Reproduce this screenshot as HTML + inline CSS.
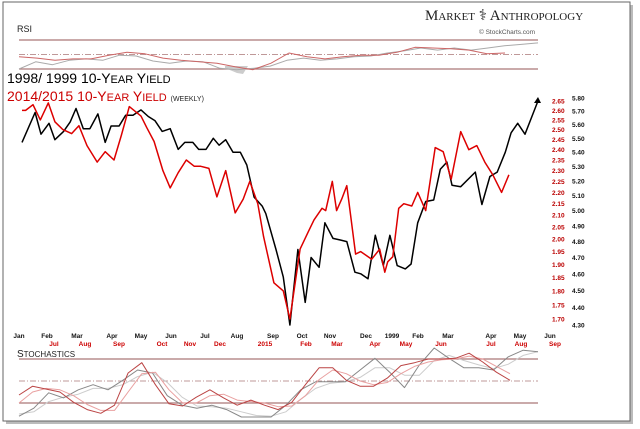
<!DOCTYPE html>
<html><head><meta charset="utf-8"><style>
body{margin:0;background:#fff;width:640px;height:429px;overflow:hidden;font-family:"Liberation Sans",sans-serif}
svg{display:block}
</style></head><body>
<svg id="c" width="640" height="429" viewBox="0 0 640 429">
<rect x="6" y="5" width="627" height="419" fill="#bbb"/>
<rect x="3" y="2" width="627" height="419" fill="#fff" stroke="#666" stroke-width="1"/>
<text x="425" y="20" font-size="15" font-family="Liberation Serif,serif" fill="#222">M<tspan font-size="11">ARKET</tspan> ⚕ A<tspan font-size="11">NTHROPOLOGY</tspan></text>
<text x="479" y="34" font-size="6.5" fill="#555">© StockCharts.com</text>
<text x="17" y="32" font-size="9" fill="#222">RSI</text>
<text x="7" y="83" font-size="14" fill="#000">1998/ 1999 10-Y<tspan font-size="11">EAR</tspan> Y<tspan font-size="11">IELD</tspan></text>
<text x="7" y="101" font-size="14" fill="#c00">2014/2015  10-Y<tspan font-size="11">EAR</tspan> Y<tspan font-size="11">IELD</tspan> <tspan font-size="7" fill="#222">(WEEKLY)</tspan></text>
<text x="17" y="357" font-size="10" fill="#222">S<tspan font-size="8">TOCHASTICS</tspan></text>
<g id="g"></g>
</svg>
<script>
const blackWeeks = [0,1.8,2.6,3.7,4.5,5.7,6.6,7.4,8.4,9.3,10.4,11.4,12.2,13.3,14.2,15.2,16.3,17.3,18.2,19.2,20.3,21.4,22.3,23.4,24.2,25.2,26.2,27.0,27.9,28.9,29.9,30.8,31.8,32.9,33.4,34.8,35.8,36.7,37.8,38.8,39.6,40.7,41.5,42.6,43.6,44.5,45.6,46.4,47.4,48.4,49.5,50.4,51.4,52.5,53.3,54.2,55.3,56.4,57.3,58.2,58.9,60.1,62.1,63.0,64.1,65.1,66.2,67.0,67.9,68.9,70.7];
const black = [5.47,5.69,5.53,5.61,5.49,5.55,5.62,5.72,5.57,5.57,5.68,5.47,5.59,5.59,5.67,5.67,5.71,5.66,5.63,5.55,5.57,5.42,5.47,5.47,5.42,5.42,5.50,5.45,5.49,5.40,5.40,5.31,5.09,5.03,4.98,4.75,4.58,4.30,4.75,4.43,4.70,4.64,4.92,4.82,4.81,4.80,4.61,4.60,4.57,4.84,4.65,4.84,4.65,4.63,4.66,4.92,5.06,5.07,5.28,5.33,5.17,5.16,5.26,5.04,5.23,5.26,5.40,5.54,5.61,5.53,5.78];
const redWeeks = [0,0.5,1.5,2.5,3.6,4.5,5.6,6.8,7.8,8.9,10.3,11.4,12.6,13.6,14.7,16.3,17.1,18.1,19.3,20.3,21.4,22.5,23.6,24.5,25.6,26.7,27.9,29.2,30.3,31.2,32.3,33.1,34.5,35.8,36.7,38.1,39.2,40.0,41.1,41.6,42.5,43.1,43.8,44.5,45.7,46.4,47.9,49.0,49.7,50.1,50.8,51.6,52.3,53.4,54.2,55.3,56.6,57.7,58.8,60.1,61.2,62.3,63.4,64.5,65.7,66.7];
const red = [2.60,2.60,2.63,2.55,2.64,2.54,2.50,2.48,2.52,2.42,2.34,2.39,2.35,2.47,2.62,2.57,2.51,2.44,2.30,2.22,2.29,2.35,2.32,2.32,2.31,2.18,2.30,2.11,2.17,2.25,2.15,2.01,1.83,1.80,1.70,1.96,2.03,2.08,2.13,2.12,2.25,2.12,2.17,2.23,1.94,1.95,1.92,1.96,1.87,1.91,1.93,2.13,2.15,2.14,2.20,2.12,2.41,2.39,2.26,2.49,2.40,2.42,2.34,2.28,2.20,2.28];
const rsiBlack = [30,40,36,42,44,42,49,48,41,38,41,40,31,29,31,34,42,45,42,44,47,48,52,55,59,56,59,56,59,62,64,66];
const rsiRed = [47,45,42,44,44,49,53,51,45,42,40,38,33,29,38,52,47,44,47,49,49,53,60,59,58,56,51,52];
const stochRedK = [31,43,39,35,21,11,6,17,61,75,45,19,16,28,38,27,17,24,17,11,21,45,68,68,51,43,43,54,71,75,80,80,81,88,76,62,51];
const stochRedD = [20,35,40,38,30,18,10,10,35,60,62,38,20,20,30,32,24,22,20,15,16,30,52,65,60,50,45,48,60,70,76,79,80,84,80,70,60];
const stochGrayK = [2,13,34,27,38,45,38,51,65,61,30,17,13,17,11,1,1,1,17,38,49,49,49,65,81,62,41,72,95,81,68,68,65,83,92,90];
const stochGrayD = [5,8,22,28,32,40,40,45,56,62,48,28,16,15,13,8,3,2,8,25,40,47,49,55,68,68,58,58,78,85,78,72,67,73,85,90];
const redTicks = [2.65,2.60,2.55,2.50,2.45,2.40,2.35,2.30,2.25,2.20,2.15,2.10,2.05,2.00,1.95,1.90,1.85,1.80,1.75,1.70];
const blackTicks = [5.80,5.70,5.60,5.50,5.40,5.30,5.20,5.10,5.00,4.90,4.80,4.70,4.60,4.50,4.40,4.30];
const monthsTop = ["Jan","Feb","Mar","Apr","May","Jun","Jul","Aug","Sep","Oct","Nov","Dec","1999","Feb","Mar","Apr","May","Jun"];
const monthsTopX = [19,47,77,112,141,171,205,237,273,302,330,366,392,418,448,491,520,550];
const monthsBot = ["Jul","Aug","Sep","Oct","Nov","Dec","2015","Feb","Mar","Apr","May","Jun","Jul","Aug","Sep"];
const monthsBotX = [54,85,119,162,190,220,265,306,337,375,406,441,491,521,555];

const NS="http://www.w3.org/2000/svg";
const g=document.getElementById('g');
function el(t,a){const e=document.createElementNS(NS,t);for(const k in a)e.setAttribute(k,a[k]);g.appendChild(e);return e;}
const yB=v=>98+227*(Math.log(5.80)-Math.log(v))/(Math.log(5.80)-Math.log(4.30));
const yR=v=>101+218*(Math.log(2.65)-Math.log(v))/(Math.log(2.65)-Math.log(1.70));
const xW=w=>22+w*7.3;
const xs=(i,n,x0,x1)=>x0+(x1-x0)*i/(n-1);
const yRsi=v=>54.5-(v-50)*0.725;
const ySt=v=>417.7-v*0.7333;
function poly(arr,x0,x1,fy,stroke,w,name){
  const pts=arr.map((v,i)=>xs(i,arr.length,x0,x1).toFixed(1)+','+fy(v).toFixed(1)).join(' ');
  const p=el('polyline',{points:pts,fill:'none',stroke:stroke,'stroke-width':w,'stroke-linejoin':'round'});
  
  
  return p;
}
function polyW(weeks,arr,fy,stroke,w,name){
  const pts=arr.map((v,i)=>xW(weeks[i]).toFixed(1)+','+fy(v).toFixed(1)).join(' ');
  const p=el('polyline',{points:pts,fill:'none',stroke:stroke,'stroke-width':w,'stroke-linejoin':'round'});
  
  
  return p;
}
function hline(y,dash,name){
  const l=el('line',{x1:19,x2:538,y1:y,y2:y,stroke:'#a77',"stroke-width":dash?0.8:1.3,"stroke-dasharray":dash?'6,2,1,2':'none'});
  
  
}
hline(yRsi(70),false,'rsi-upper-line');hline(yRsi(50),true,'rsi-mid-line');hline(yRsi(30),false,'rsi-lower-line');
const sh=el('polygon',{points:'225,68 237,73 243,74 248,66 225,66',fill:'#ccc'});


poly(rsiBlack,19,538,yRsi,'#aaa',1,'rsi-1998-line');
poly(rsiRed,19,505,yRsi,'#c66',1,'rsi-2014-line');
polyW(blackWeeks,black,yB,'#000',1.5,'yield-1998-line');
polyW(redWeeks,red,yR,'#d00',1.5,'yield-2014-line');
const ar=el('polygon',{points:'538,97 534,103 541,103',fill:'#000'});


redTicks.forEach(v=>{const t=el('text',{x:552,y:yR(v)+2.5,'font-size':6.5,fill:'#b00','font-weight':'bold'});t.textContent=v.toFixed(2);

});
blackTicks.forEach(v=>{const t=el('text',{x:572,y:yB(v)+2.5,'font-size':6.5,fill:'#111','font-weight':'bold'});t.textContent=v.toFixed(2);

});
monthsTop.forEach((m,i)=>{const t=el('text',{x:monthsTopX[i],y:338,'font-size':6.5,fill:'#111','font-weight':'bold','text-anchor':'middle'});t.textContent=m;

});
monthsBot.forEach((m,i)=>{const t=el('text',{x:monthsBotX[i],y:346,'font-size':6.5,fill:'#c00','font-weight':'bold','text-anchor':'middle'});t.textContent=m;

});
hline(ySt(80),false,'stoch-upper-line');hline(ySt(50),true,'stoch-mid-line');hline(ySt(20),false,'stoch-lower-line');
poly(stochGrayD,19,538,ySt,'#ccc',1,'stoch-1998-d');
poly(stochGrayK,19,538,ySt,'#888',1,'stoch-1998-k');
poly(stochRedD,19,510,ySt,'#e9a0a0',1,'stoch-2014-d');
poly(stochRedK,19,510,ySt,'#b44',1,'stoch-2014-k');
</script>
</body></html>
